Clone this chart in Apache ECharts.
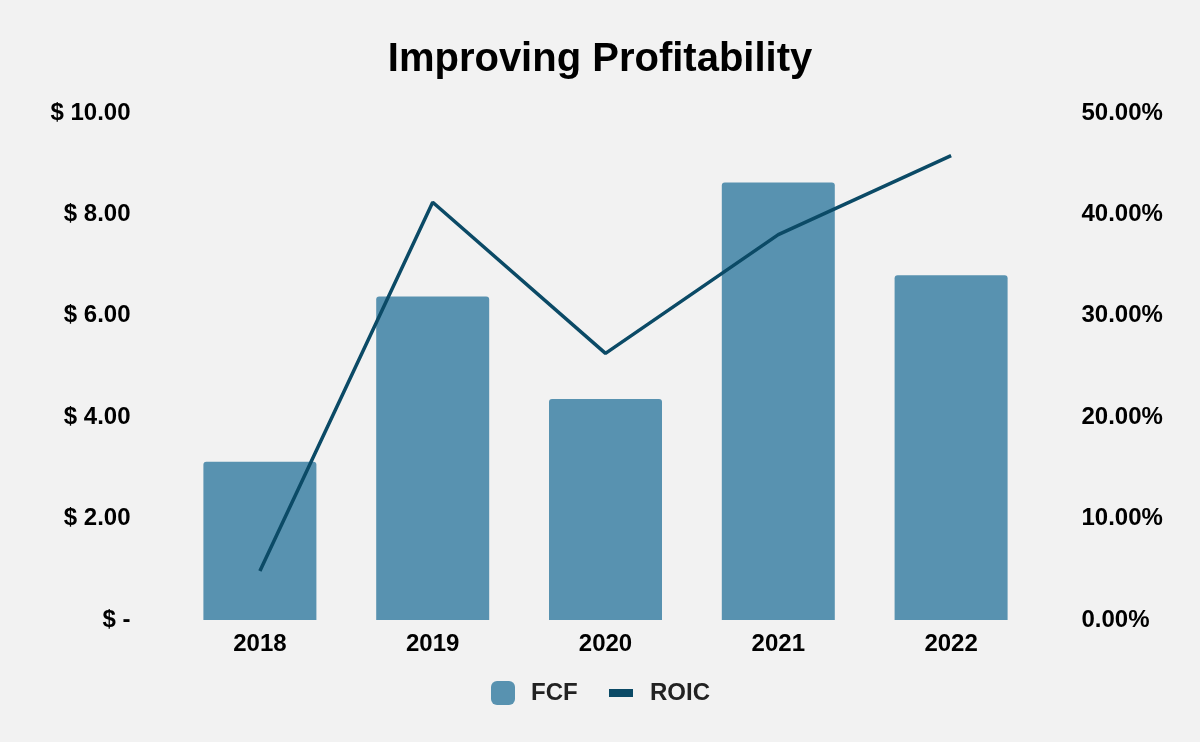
<!DOCTYPE html>
<html><head><meta charset="utf-8">
<script src="https://cdn.jsdelivr.net/npm/echarts@6/dist/echarts.min.js"></script>
<style>html,body{margin:0;padding:0;background:#F2F2F2}#c{width:1200px;height:742px}</style>
</head><body><div id="c"></div>
<script>
const categories = ['2018','2019','2020','2021','2022'];
const fcf = [3.12, 6.38, 4.36, 8.63, 6.80];
const roic = [4.83, 41.2, 26.3, 38.0, 45.8];
const FONT = '"Liberation Sans", Arial, Helvetica, sans-serif';
const chart = echarts.init(document.getElementById('c'));
chart.setOption({
  backgroundColor: '#F2F2F2',
  animation: false,
  title: { text: 'Improving Profitability', left: 'center', top: 35,
    textStyle: { fontFamily: FONT, fontWeight: 'bold', fontSize: 40, color: '#000' } },
  legend: [
    { data: ['FCF'], left: 486, top: 676, itemWidth: 24, itemHeight: 24, icon: 'roundRect',
      textStyle: { fontFamily: FONT, fontWeight: 'bold', fontSize: 24, color: '#222', padding: [0,0,0,11] } },
    { data: ['ROIC'], left: 604, top: 676, itemWidth: 24, itemHeight: 24,
      icon: 'path://M0,0 L0.01,0 L0.01,0.01 Z M0,8 L24,8 L24,16 L0,16 Z M23.99,23.99 L24,23.99 L24,24 Z',
      itemStyle: { color: '#0B4A66' },
      textStyle: { fontFamily: FONT, fontWeight: 'bold', fontSize: 24, color: '#222', padding: [0,0,0,12] } }
  ],
  grid: { left: 173.5, right: 162.5, top: 113, bottom: 122 },
  xAxis: { type: 'category', data: categories,
    axisLine: { show: false }, axisTick: { show: false },
    axisLabel: { fontFamily: FONT, fontWeight: 'bold', fontSize: 24, color: '#000', margin: 12 } },
  yAxis: [
    { type: 'value', min: 0, max: 10, interval: 2, splitLine: { show: false },
      axisLine: { show: false }, axisTick: { show: false },
      axisLabel: { fontFamily: FONT, fontWeight: 'bold', fontSize: 24, color: '#000', margin: 43,
        formatter: v => v === 0 ? '$ -' : '$ ' + v.toFixed(2) } },
    { type: 'value', min: 0, max: 50, interval: 10, splitLine: { show: false },
      axisLine: { show: false }, axisTick: { show: false },
      axisLabel: { fontFamily: FONT, fontWeight: 'bold', fontSize: 24, color: '#000', margin: 44,
        formatter: v => v.toFixed(2) + '%' } }
  ],
  series: [
    { name: 'FCF', type: 'bar', data: fcf, barWidth: 113,
      itemStyle: { color: '#5892B0', borderRadius: [3,3,0,0] } },
    { name: 'ROIC', type: 'line', yAxisIndex: 1, data: roic, symbol: 'none',
      lineStyle: { color: '#0B4A66', width: 3.5 }, itemStyle: { color: '#0B4A66' } }
  ]
});
</script></body></html>
